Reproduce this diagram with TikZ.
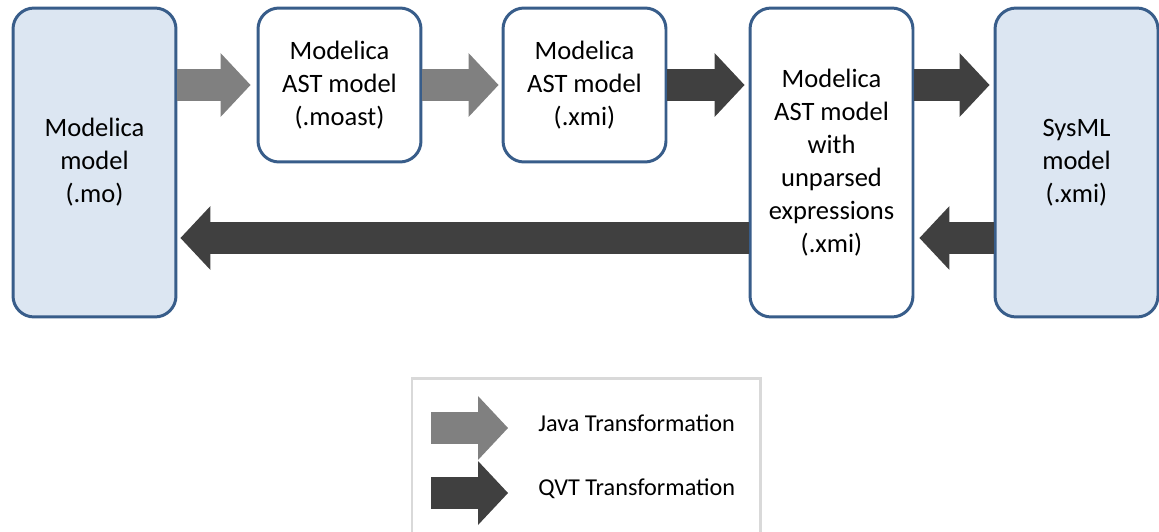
\documentclass[tikz,border=0pt]{standalone}
\usepackage{fontspec}
\setmainfont{Carlito}
\usetikzlibrary{arrows.meta}
\definecolor{boxblue}{HTML}{385D8A}
\definecolor{boxfill}{HTML}{DCE6F2}
\definecolor{javagray}{HTML}{808080}
\definecolor{qvtgray}{HTML}{404040}
\definecolor{legendgray}{HTML}{D9D9D9}
\tikzset{
  model/.style={draw=boxblue, line width=1.7pt, rounded corners=0.42cm, align=center,
    inner sep=0pt, font=\fontsize{15.1}{18.8}\selectfont},
  bigmodel/.style={model, fill=boxfill, minimum width=3.26cm, minimum height=6.18cm},
  astmodel/.style={model, fill=white, minimum width=3.26cm, minimum height=3.08cm},
  java/.style={color=javagray, line width=0.64cm,
    -{Triangle[width=1.28cm,length=0.6cm,line width=0pt]}},
  qvt/.style={java, color=qvtgray},
  legendtext/.style={anchor=west, inner sep=0pt, font=\fontsize{13.8}{16}\selectfont},
}
\begin{document}
\begin{tikzpicture}[x=0.02cm, y=-0.02cm]
\useasboundingbox (0,0) rectangle (1159,531);
\clip (0,0) rectangle (1159,531);
% models
\node[bigmodel] (mo) at (94.5,162.5) {Modelica\\model\\(.mo)};
\node[astmodel] (moast) at (339.5,85) {Modelica\\AST model\\(.moast)};
\node[astmodel] (astxmi) at (584.5,85) {Modelica\\AST model\\(.xmi)};
\node[model, fill=white, minimum width=3.26cm, minimum height=6.18cm] (unparsed) at (831.5,162.5)
  {Modelica\\AST model\\with\\unparsed\\expressions\\(.xmi)};
\node[bigmodel] (sysml) at (1076.5,162.5) {SysML\\model\\(.xmi)};
\coordinate (back) at (0,238);
% transformations
\draw[java, shorten >=0.12cm] (mo.east |- moast.west) to (moast.west);
\draw[java, shorten >=0.06cm] (moast.east) to (astxmi.west);
\draw[qvt, shorten >=0.08cm] (astxmi.east) to (astxmi.east -| unparsed.west);
\draw[qvt, shorten >=0.08cm] (astxmi.east -| unparsed.east) to (astxmi.east -| sysml.west);
\draw[qvt, shorten >=0.1cm] (back -| sysml.west) to (back -| unparsed.east);
\draw[qvt, shorten >=0.06cm] (back -| unparsed.west) to (back -| mo.east);
% legend
\draw[legendgray, line width=1.7pt] (412,545) -- (412,378) -- (760,378) -- (760,545);
\node[legendtext] (javalabel) at (538,423) {Java Transformation};
\node[legendtext] (qvtlabel) at (538,489) {QVT Transformation};
\coordinate (javastart) at (431,428);
\coordinate (javaend) at (508,428);
\coordinate (qvtstart) at (431,493);
\coordinate (qvtend) at (508,493);
\draw[java] (javastart) to (javaend);
\draw[qvt] (qvtstart) to (qvtend);
\end{tikzpicture}
\end{document}
